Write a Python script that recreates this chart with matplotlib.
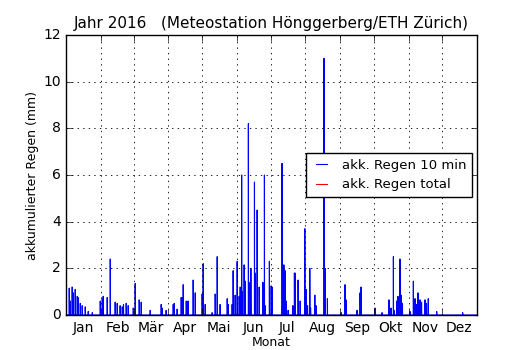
import pandas as pd
import matplotlib
matplotlib.use("Agg")
import matplotlib.pyplot as plt
import matplotlib.dates as mdates
import numpy as np

# 10-min rain peaks for 2016 (time of the peak, mm)
peakTimes = [
    "01-03 16:00", "01-04 14:00", "01-06 07:00", "01-07 05:00", "01-09 00:00", "01-10 19:00",
    "01-11 17:00", "01-13 12:00", "01-15 05:00", "01-17 22:00", "01-20 14:00", "01-24 05:00",
    "01-31 07:00", "02-02 02:00", "02-02 22:00", "02-06 12:00", "02-09 05:00", "02-13 14:00",
    "02-15 10:00", "02-18 00:00", "02-19 22:00", "02-21 00:00", "02-23 10:00", "02-25 05:00",
    "02-29 17:00", "03-02 10:00", "03-06 00:00", "03-07 19:00", "03-15 19:00", "03-25 14:00",
    "03-26 12:00", "03-30 00:00", "04-05 07:00", "04-06 05:00", "04-08 19:00", "04-12 10:00",
    "04-13 07:00", "04-14 05:00", "04-16 22:00", "04-17 19:00", "04-18 14:00", "04-23 02:00",
    "04-24 22:00", "05-01 02:00", "05-02 00:00", "05-03 19:00", "05-10 00:00", "05-12 17:00",
    "05-14 12:00", "05-17 02:00", "05-23 10:00", "05-24 12:00", "05-27 19:00", "05-28 17:00",
    "05-30 12:00", "06-01 07:00", "06-03 02:00", "06-04 00:00", "06-05 07:00", "06-05 19:00",
    "06-07 12:00", "06-08 12:00", "06-11 07:00", "06-12 19:00", "06-13 12:00", "06-16 17:00",
    "06-17 07:00", "06-19 02:00", "06-20 22:00", "06-24 05:00", "06-25 14:00", "06-26 05:00",
    "06-30 00:00", "07-01 14:00", "07-02 12:00", "07-11 07:00", "07-12 22:00", "07-14 00:00",
    "07-14 22:00", "07-16 17:00", "07-20 22:00", "07-22 07:00", "07-22 22:00", "07-25 14:00",
    "07-27 10:00", "07-31 14:00", "08-01 17:00", "08-03 00:00", "08-05 00:00", "08-05 17:00",
    "08-09 12:00", "08-10 14:00", "08-17 17:00", "08-18 14:00", "08-20 17:00", "09-01 22:00",
    "09-05 10:00", "09-06 07:00", "09-16 02:00", "09-18 19:00", "09-19 17:00", "10-02 05:00",
    "10-08 10:00", "10-14 14:00", "10-16 10:00", "10-18 12:00", "10-19 00:00", "10-21 12:00",
    "10-22 14:00", "10-24 10:00", "10-25 07:00", "10-26 14:00", "11-02 07:00", "11-05 07:00",
    "11-06 19:00", "11-08 02:00", "11-09 10:00", "11-11 05:00", "11-12 14:00", "11-15 17:00",
    "11-17 00:00", "11-18 14:00", "11-26 02:00", "12-19 05:00",
]
peakMM = [
    1.15, 0.6, 1.2, 0.95, 1.1, 0.8,
    0.75, 0.5, 0.4, 0.35, 0.15, 0.1,
    0.6, 0.7, 0.8, 0.75, 2.4, 0.55,
    0.5, 0.4, 0.35, 0.45, 0.5, 0.4,
    0.3, 1.35, 0.65, 0.55, 0.2, 0.45,
    0.3, 0.2, 0.45, 0.5, 0.25, 0.75,
    0.75, 1.3, 0.6, 0.55, 0.6, 1.5,
    0.95, 0.9, 2.2, 0.45, 0.1, 0.9,
    2.5, 0.45, 0.7, 0.45, 0.45, 1.9,
    0.85, 2.3, 0.8, 1.2, 6.0, 1.0,
    2.15, 1.45, 8.2, 1.4, 2.0, 5.7,
    1.8, 4.5, 1.2, 1.4, 6.0, 0.4,
    2.3, 1.25, 1.2, 6.5, 2.15, 1.9,
    0.6, 0.2, 0.4, 1.8, 1.8, 1.5,
    0.6, 3.7, 1.1, 0.4, 2.0, 0.3,
    0.85, 0.4, 11.0, 2.0, 0.7, 0.1,
    1.3, 0.65, 0.2, 0.95, 1.2, 0.3,
    0.1, 0.65, 0.3, 2.5, 0.2, 0.6,
    0.8, 2.4, 0.85, 0.5, 0.15, 1.45,
    0.7, 0.45, 0.95, 0.65, 0.55, 0.65,
    0.5, 0.7, 0.15, 0.1,
]
monthNames = ["Jan", "Feb", "Mär", "Apr", "Mai", "Jun", "Jul", "Aug", "Sep", "Okt", "Nov", "Dez"]
year = 2016

def buildSeries():
    idx = pd.date_range(f"{year}-01-01", f"{year + 1}-01-01", freq="10min")
    rain = pd.Series(0.0, index=idx)
    for t, mm in zip(peakTimes, peakMM):
        rain.loc[pd.Timestamp(f"{year}-{t}")] = mm
    return rain

def plot(rain):
    plt.style.use("classic")
    plt.rcParams["font.size"] = 10
    fig = plt.figure(figsize=(5.3, 3.5), dpi=100, facecolor="w")
    ax = fig.add_subplot(111)
    fig.subplots_adjust(left=0.125, right=0.9, bottom=0.1, top=0.9)

    ax.plot(rain.index, rain.values, "b-", lw=0.8, label="akk. Regen 10 min")
    # total curve lies far above the 12 mm window, only the legend entry remains
    ax.plot([], [], "r-", lw=0.8, label="akk. Regen total")

    ax.set_xlim(pd.Timestamp(f"{year}-01-01"), pd.Timestamp(f"{year + 1}-01-01"))
    ax.set_ylim(0, 12)
    ax.xaxis.set_major_locator(mdates.MonthLocator())
    ax.xaxis.set_major_formatter(plt.NullFormatter())
    ax.xaxis.set_minor_locator(mdates.MonthLocator(bymonthday=16))
    ax.xaxis.set_minor_formatter(plt.FuncFormatter(lambda x, pos: monthNames[mdates.num2date(x).month - 1]))
    ax.tick_params(axis="x", which="minor", length=0, labelsize=10)
    ax.tick_params(axis="y", labelsize=10)
    ax.grid(True, which="major", color="k", linestyle=":", linewidth=0.6)

    ax.set_title("Jahr 2016   (Meteostation Hönggerberg/ETH Zürich)", fontsize=11)
    ax.set_xlabel("Monat", fontsize=9, labelpad=1)
    ax.set_ylabel("akkumulierter Regen (mm)", fontsize=9, labelpad=3)
    ax.legend(loc="center right", fontsize=9.5, handlelength=1.5, frameon=True, borderaxespad=0.4)

    fig.savefig("out.png", dpi=100, facecolor="w")

plot(buildSeries())
